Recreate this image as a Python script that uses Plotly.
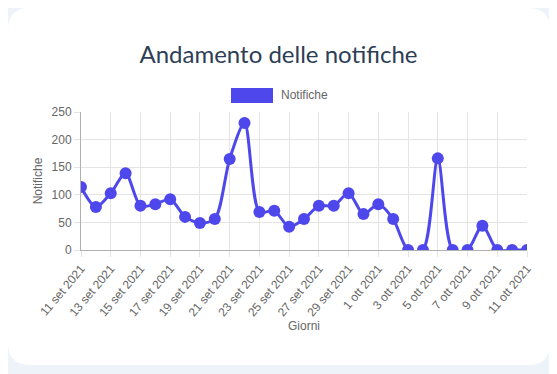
import plotly.graph_objects as go

days = ["11 set 2021", "12 set 2021", "13 set 2021", "14 set 2021", "15 set 2021",
        "16 set 2021", "17 set 2021", "18 set 2021", "19 set 2021", "20 set 2021",
        "21 set 2021", "22 set 2021", "23 set 2021", "24 set 2021", "25 set 2021",
        "26 set 2021", "27 set 2021", "28 set 2021", "29 set 2021", "30 set 2021",
        "1 ott 2021", "2 ott 2021", "3 ott 2021", "4 ott 2021", "5 ott 2021",
        "6 ott 2021", "7 ott 2021", "8 ott 2021", "9 ott 2021", "10 ott 2021",
        "11 ott 2021"]
notifiche = [114, 78, 103, 139, 80, 83, 92, 60, 49, 56,
             165, 230, 69, 71, 42, 56, 80, 80, 103, 65,
             83, 56, 0, 0, 166, 0, 0, 44, 0, 0, 0]
tick_labels = days[::2]

# page body has an 8px margin, so figure coords = page coords - 8
OFF = 8
W, H = 557 - OFF, 374 - OFF
L, R, T, B = 81 - OFF, 30, 112 - OFF, 124
pw, ph = W - L - R, H - T - B

def px2paper(x, y):
    # x, y given in page pixels
    x -= OFF
    y -= OFF
    return (x - L) / pw, (H - B - y) / ph

def rounded_rect(x0, y0, x1, y1, r):
    def p(x, y):
        a, b = px2paper(x, y)
        return f"{a:.5f},{b:.5f}"
    path = f"M {p(x0 + r, y0)} L {p(x1 - r, y0)} Q {p(x1, y0)} {p(x1, y0 + r)} "
    path += f"L {p(x1, y1 - r)} Q {p(x1, y1)} {p(x1 - r, y1)} "
    path += f"L {p(x0 + r, y1)} Q {p(x0, y1)} {p(x0, y1 - r)} "
    path += f"L {p(x0, y0 + r)} Q {p(x0, y0)} {p(x0 + r, y0)} Z"
    return path

color = "#4e48ec"

fig = go.Figure()
fig.add_trace(go.Scatter(
    x=list(range(len(days))), y=notifiche, mode="lines+markers",
    line=dict(color=color, width=3, shape="spline", smoothing=0.8),
    marker=dict(color=color, size=12),
    name="Notifiche", showlegend=False, hoverinfo="y"))

lx0, ly0 = px2paper(231, 103)
lx1, ly1 = px2paper(273, 88)
tx, ty = px2paper(279, 95)

fig.update_layout(
    width=W, height=H,
    margin=dict(l=L, r=R, t=T, b=B),
    paper_bgcolor="#eef3fa",
    plot_bgcolor="rgba(0,0,0,0)",
    title=dict(text="Andamento delle notifiche", x=(278.5 - OFF) / W, xref="container",
               xanchor="center",
               y=1 - (55 - OFF) / H, yanchor="middle",
               font=dict(family="Lato, Open Sans, sans-serif", size=24, color="#2d3e56")),
    shapes=[
        dict(type="path", xref="paper", yref="paper", path=rounded_rect(8, 8, 550, 365, 22),
             fillcolor="white", line=dict(width=0), layer="below"),
        dict(type="rect", xref="paper", yref="paper", x0=lx0, y0=ly0, x1=lx1, y1=ly1,
             fillcolor=color, line=dict(width=0)),
    ],
    annotations=[dict(text="Notifiche", xref="paper", yref="paper", x=tx, y=ty,
                      xanchor="left", yanchor="middle", showarrow=False,
                      font=dict(family="Arial, Liberation Sans, sans-serif", size=12, color="#666"))],
    font=dict(family="Arial, Liberation Sans, sans-serif", size=12, color="#666"),
)
fig.update_xaxes(
    range=[0, len(days) - 1], tickmode="array",
    tickvals=list(range(0, len(days), 2)), ticktext=tick_labels,
    tickangle=-50, showgrid=True, gridcolor="#e4e4e4", gridwidth=1,
    ticks="outside", ticklen=6, tickcolor="#e4e4e4",
    showline=True, linecolor="#b0b0b0", linewidth=1, zeroline=False,
    title=dict(text="Giorni", font=dict(size=12, color="#666"), standoff=0),
    tickfont=dict(size=12, color="#666"))
fig.update_yaxes(
    range=[0, 250], dtick=50, showgrid=True, gridcolor="#e4e4e4",
    ticks="outside", ticklen=6, tickcolor="#e4e4e4",
    showline=True, linecolor="#b0b0b0", linewidth=1, zeroline=False,
    title=dict(text="Notifiche", font=dict(size=12, color="#666"), standoff=6),
    tickfont=dict(size=12, color="#666"))

fig.write_html("out.html")
